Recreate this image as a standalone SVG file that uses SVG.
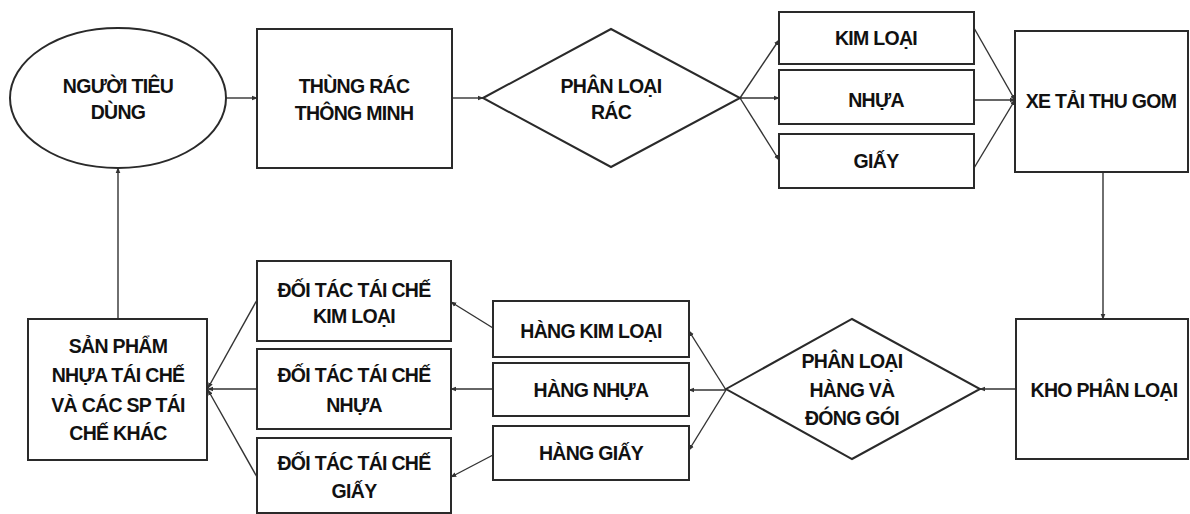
<svg xmlns="http://www.w3.org/2000/svg" width="1190" height="514" viewBox="0 0 1190 514">
<defs>
<style>
.s{fill:#fff;stroke:#2a2a2a;stroke-width:2}
.t{font-family:"Liberation Sans",Arial,sans-serif;font-weight:bold;font-size:19.5px;fill:#111;text-anchor:middle;letter-spacing:-0.7px}
.c{fill:none;stroke:#333;stroke-width:1.4}
</style>
<marker id="a" viewBox="0 0 8 8" refX="7" refY="4" markerWidth="6" markerHeight="6" orient="auto" markerUnits="userSpaceOnUse">
<path d="M0,0.8 L8,4 L0,7.2 Z" fill="#333"/>
</marker>
</defs>
<rect width="1190" height="514" fill="#fff"/>
<g id="connectors">
<line class="c" x1="226" y1="98" x2="257" y2="98" marker-end="url(#a)"/>
<line class="c" x1="452" y1="98" x2="483" y2="98" marker-end="url(#a)"/>
<line class="c" x1="740" y1="98" x2="779" y2="40" marker-end="url(#a)"/>
<line class="c" x1="740" y1="98" x2="779" y2="98" marker-end="url(#a)"/>
<line class="c" x1="740" y1="98" x2="779" y2="160" marker-end="url(#a)"/>
<line class="c" x1="974" y1="28" x2="1015" y2="100" marker-end="url(#a)"/>
<line class="c" x1="974" y1="100" x2="1015" y2="100" marker-end="url(#a)"/>
<line class="c" x1="974" y1="168" x2="1015" y2="100" marker-end="url(#a)"/>
<line class="c" x1="1103" y1="172" x2="1103" y2="319" marker-end="url(#a)"/>
<line class="c" x1="1016" y1="389" x2="980" y2="389" marker-end="url(#a)"/>
<line class="c" x1="726" y1="390" x2="689" y2="331" marker-end="url(#a)"/>
<line class="c" x1="726" y1="390" x2="689" y2="390" marker-end="url(#a)"/>
<line class="c" x1="726" y1="390" x2="689" y2="450" marker-end="url(#a)"/>
<line class="c" x1="493" y1="328" x2="451" y2="302" marker-end="url(#a)"/>
<line class="c" x1="493" y1="389" x2="451" y2="389" marker-end="url(#a)"/>
<line class="c" x1="493" y1="455" x2="451" y2="477" marker-end="url(#a)"/>
<line class="c" x1="257" y1="300" x2="208" y2="388" marker-end="url(#a)"/>
<line class="c" x1="257" y1="389" x2="208" y2="389" marker-end="url(#a)"/>
<line class="c" x1="257" y1="477" x2="208" y2="390" marker-end="url(#a)"/>
<line class="c" x1="118" y1="319" x2="118" y2="168" marker-end="url(#a)"/>
</g>
<g id="nguoi-tieu-dung">
<ellipse class="s" cx="118" cy="98" rx="108" ry="70"/>
<text class="t" x="118" y="93">NGƯỜI TIÊU</text>
<text class="t" x="118" y="119">DÙNG</text>
</g>
<g id="thung-rac">
<rect class="s" x="257" y="29" width="195" height="139"/>
<text class="t" x="354" y="93">THÙNG RÁC</text>
<text class="t" x="354" y="120">THÔNG MINH</text>
</g>
<g id="phan-loai-rac">
<polygon class="s" points="483,98 611,29 740,98 611,167"/>
<text class="t" x="611" y="93">PHÂN LOẠI</text>
<text class="t" x="611" y="119">RÁC</text>
</g>
<g id="kim-loai">
<rect class="s" x="779" y="12" width="195" height="52"/>
<text class="t" x="876" y="45">KIM LOẠI</text>
</g>
<g id="nhua">
<rect class="s" x="779" y="70" width="195" height="54"/>
<text class="t" x="876" y="107">NHỰA</text>
</g>
<g id="giay">
<rect class="s" x="779" y="134" width="195" height="54"/>
<text class="t" x="876" y="168">GIẤY</text>
</g>
<g id="xe-tai">
<rect class="s" x="1015" y="31" width="173" height="141"/>
<text class="t" x="1101" y="108">XE TẢI THU GOM</text>
</g>
<g id="kho-phan-loai">
<rect class="s" x="1016" y="319" width="172" height="140"/>
<text class="t" x="1104" y="397">KHO PHÂN LOẠI</text>
</g>
<g id="phan-loai-hang">
<polygon class="s" points="726,389 852,319 980,389 852,459"/>
<text class="t" x="852" y="368">PHÂN LOẠI</text>
<text class="t" x="852" y="397">HÀNG VÀ</text>
<text class="t" x="852" y="425">ĐÓNG GÓI</text>
</g>
<g id="hang-kim-loai">
<rect class="s" x="493" y="301" width="196" height="56"/>
<text class="t" x="591" y="338">HÀNG KIM LOẠI</text>
</g>
<g id="hang-nhua">
<rect class="s" x="493" y="363" width="196" height="53"/>
<text class="t" x="591" y="397">HÀNG NHỰA</text>
</g>
<g id="hang-giay">
<rect class="s" x="493" y="426" width="196" height="54"/>
<text class="t" x="591" y="460">HÀNG GIẤY</text>
</g>
<g id="doi-tac-kim-loai">
<rect class="s" x="257" y="261" width="194" height="80"/>
<text class="t" x="354" y="297">ĐỐI TÁC TÁI CHẾ</text>
<text class="t" x="354" y="323">KIM LOẠI</text>
</g>
<g id="doi-tac-nhua">
<rect class="s" x="257" y="349" width="194" height="80"/>
<text class="t" x="354" y="382">ĐỐI TÁC TÁI CHẾ</text>
<text class="t" x="354" y="412">NHỰA</text>
</g>
<g id="doi-tac-giay">
<rect class="s" x="257" y="438" width="194" height="75"/>
<text class="t" x="354" y="470">ĐỐI TÁC TÁI CHẾ</text>
<text class="t" x="354" y="498">GIẤY</text>
</g>
<g id="san-pham">
<rect class="s" x="28" y="319" width="179" height="141"/>
<text class="t" x="118" y="353">SẢN PHẨM</text>
<text class="t" x="118" y="382">NHỰA TÁI CHẾ</text>
<text class="t" x="118" y="412">VÀ CÁC SP TÁI</text>
<text class="t" x="118" y="440">CHẾ KHÁC</text>
</g>
</svg>
